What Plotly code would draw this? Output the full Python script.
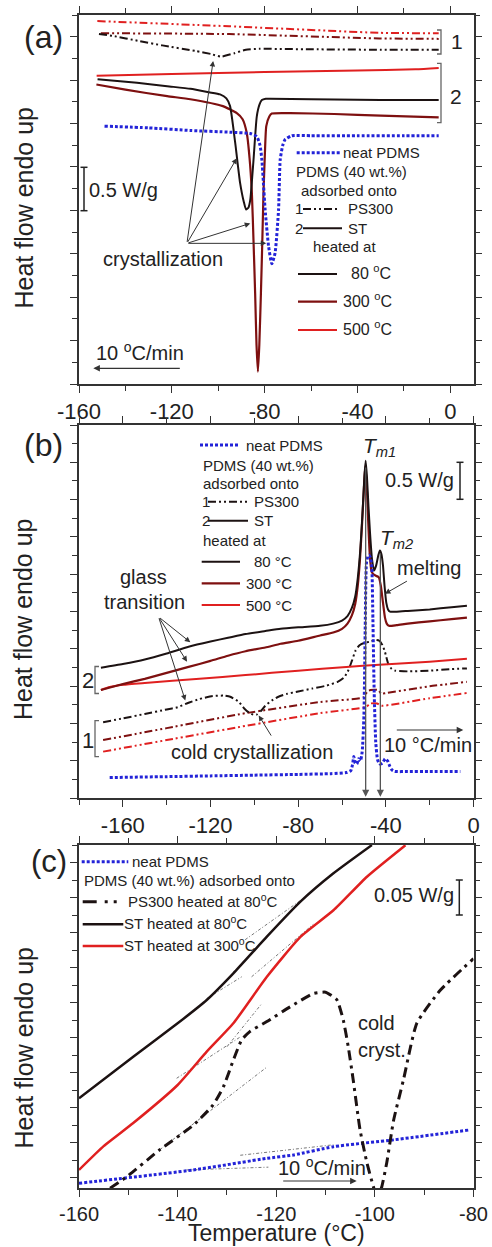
import plotly.graph_objects as go

W, H = 492, 1247
FONT = "Liberation Sans, Arial, sans-serif"
TXT = "#222222"
AX = "#333333"
BLACK = "#1c1212"
DRED = "#7e1010"
RED = "#e02020"
BLUE = "#2323d8"

# ---------------- panel (a): cooling ----------------
xa_neat = [-149, -130, -112, -95, -86.2, -83.4, -82, -81.2, -80.5, -79.8, -78.3, -76.9, -75.5, -74.0, -73.3, -72.2, -71.2, -68.3, -60, -40, -20, -5]
ya_neat = [2.97, 2.95, 2.92, 2.90, 2.885, 2.85, 2.75, 2.585, 2.30, 2.01, 1.585, 1.385, 1.51, 2.01, 2.585, 2.75, 2.815, 2.86, 2.86, 2.86, 2.86, 2.86]

xa_st80 = [-152, -135, -122, -112, -104, -99.2, -96.5, -94.9, -92.7, -90.6, -89, -88.0, -87, -86.2, -84.8, -83.4, -82.2, -81.2, -79.5, -77.6, -60, -40, -20, -5]
ya_st80 = [3.51, 3.47, 3.43, 3.40, 3.36, 3.335, 3.29, 3.20, 2.78, 2.32, 2.10, 2.01, 2.03, 2.12, 2.58, 3.08, 3.22, 3.27, 3.285, 3.285, 3.28, 3.275, 3.27, 3.27]

xa_st300 = [-152.5, -140, -122, -112, -98, -92, -89.5, -87.7, -86.5, -85.5, -84.8, -84.1, -83.5, -82.9, -82.3, -81.6, -81, -80.5, -79.9, -79.3, -78, -76.9, -69, -50, -30, -5]
ya_st300 = [3.45, 3.39, 3.315, 3.28, 3.20, 3.12, 3.05, 2.89, 2.60, 2.20, 1.65, 1.05, 0.45, 0.142, 0.45, 1.05, 1.65, 2.20, 2.65, 2.97, 3.08, 3.115, 3.12, 3.11, 3.09, 3.07]

xa_st500 = [-152.4, -120, -80, -40, -15, -5]
ya_st500 = [3.55, 3.57, 3.594, 3.61, 3.625, 3.64]

xa_ps500 = [-152.1, -95.3, -30.6, -5]
ya_ps500 = [4.18, 4.12, 4.045, 4.04]
xa_ps300 = [-150.6, -95.3, -30.6, -5]
ya_ps300 = [4.04, 4.03, 3.98, 3.975]
xa_ps80 = [-151.4, -145.6, -134.1, -124.1, -109.7, -103, -98.9, -93, -88.1, -82.4, -60, -30, -5]
ya_ps80 = [4.03, 4.01, 3.95, 3.90, 3.835, 3.80, 3.77, 3.81, 3.85, 3.86, 3.855, 3.85, 3.85]

# ---------------- panel (b): heating ----------------
xb_neat = [-166, -140, -120, -100, -80, -65, -58, -56, -55.2, -54.6, -54.0, -53.2, -52.4, -51.6, -50.8, -50.0, -49.4, -48.9, -48.4, -47.7, -47.0, -46.4, -45.9, -45.3, -44.6, -43.8, -42.8, -41.6, -40.3, -39.2, -38.2, -37.2, -36, -30, -20, -6]
yb_neat = [0.278, 0.29, 0.30, 0.31, 0.32, 0.33, 0.345, 0.37, 0.45, 0.56, 0.47, 0.46, 0.53, 0.50, 0.62, 1.10, 2.30, 3.14, 3.22, 3.26, 3.22, 3.10, 2.40, 1.40, 0.75, 0.52, 0.46, 0.47, 0.53, 0.50, 0.43, 0.38, 0.36, 0.358, 0.358, 0.358]

xb_st80 = [-170, -160, -150, -140, -130, -120, -112, -104, -95, -88, -80, -70, -64, -60, -57.5, -55.5, -54, -52.8, -51.6, -50.6, -49.8, -49.2, -48.6, -47.9, -47.2, -46.3, -45.4, -44.4, -43.4, -42.7, -42.0, -41.3, -40.6, -39.8, -39.0, -38.1, -35, -30, -20, -10, -3]
yb_st80 = [1.75, 1.80, 1.86, 1.94, 2.03, 2.10, 2.15, 2.20, 2.24, 2.27, 2.29, 2.31, 2.34, 2.38, 2.44, 2.55, 2.70, 2.95, 3.35, 3.85, 4.30, 4.52, 4.30, 3.90, 3.55, 3.20, 3.05, 3.12, 3.26, 3.32, 3.27, 3.12, 2.85, 2.62, 2.53, 2.50, 2.50, 2.51, 2.53, 2.56, 2.58]

xb_st300 = [-170, -165, -160, -150, -140, -130, -120, -112, -104, -95, -88, -80, -70, -64, -60, -57.5, -55.5, -54, -52.8, -51.8, -50.8, -50.0, -49.4, -48.8, -48.1, -47.4, -46.6, -45.7, -44.5, -43.2, -42.3, -41.3, -40.4, -39.6, -38.6, -35, -30, -20, -10, -3]
yb_st300 = [1.45, 1.49, 1.53, 1.60, 1.68, 1.76, 1.84, 1.91, 1.97, 2.02, 2.07, 2.11, 2.18, 2.22, 2.27, 2.34, 2.45, 2.60, 2.85, 3.20, 3.70, 4.15, 4.45, 4.25, 3.75, 3.30, 3.05, 3.00, 2.98, 2.96, 2.85, 2.62, 2.42, 2.34, 2.31, 2.32, 2.34, 2.37, 2.40, 2.42]

xb_st500 = [-170, -166, -160, -150, -125, -104, -80, -58, -43, -20, -3]
yb_st500 = [1.45, 1.49, 1.52, 1.545, 1.60, 1.65, 1.71, 1.76, 1.79, 1.83, 1.87]

xb_ps80 = [-169, -160, -150, -140, -135, -130, -125, -119, -114, -111, -107, -104.5, -102.5, -100.5, -99, -97, -95, -92, -89, -85, -80, -73.6, -67, -62, -59, -57, -55.5, -53.8, -52, -50, -47, -44.5, -43, -41.5, -40.4, -38.9, -37.3, -35.8, -30, -20, -10, -3]
yb_ps80 = [1.02, 1.07, 1.13, 1.19, 1.22, 1.28, 1.33, 1.37, 1.375, 1.36, 1.29, 1.20, 1.15, 1.12, 1.12, 1.17, 1.24, 1.31, 1.36, 1.40, 1.43, 1.47, 1.51, 1.56, 1.62, 1.72, 1.84, 1.98, 2.05, 2.08, 2.10, 2.12, 2.11, 2.05, 1.96, 1.80, 1.73, 1.71, 1.70, 1.71, 1.73, 1.74]

xb_ps300 = [-169, -140, -104, -70, -50, -48.5, -47, -43.5, -42, -40, -20, -3]
yb_ps300 = [0.78, 0.94, 1.14, 1.29, 1.355, 1.43, 1.45, 1.45, 1.40, 1.41, 1.50, 1.56]

xb_ps500 = [-169, -140, -104, -70, -49, -47, -44, -42, -20, -3]
yb_ps500 = [0.625, 0.78, 0.97, 1.14, 1.225, 1.27, 1.27, 1.24, 1.34, 1.41]

# ---------------- panel (c): glass transition zoom ----------------
xc_st80 = [-160, -149, -140, -134.1, -128.7, -121.9, -115.1, -108.4, -100.6]
yc_st80 = [0.1133, 0.1729, 0.2205, 0.2538, 0.2919, 0.3443, 0.3943, 0.4348, 0.4752]

xc_st300 = [-160, -155, -149, -140, -134.1, -128.7, -121.9, -115.1, -108.4, -101.6, -93.8]
yc_st300 = [0.011, 0.045, 0.078, 0.1324, 0.18, 0.2205, 0.287, 0.344, 0.382, 0.43, 0.475]

xc_ps80 = [-153.7, -150.3, -143.6, -136.8, -132.8, -130.7, -128.7, -127, -125.3, -121.9, -117.2, -112.5, -110, -107.7, -106.4, -105.4, -104.4, -103, -101.6, -100.3, -99.5, -98.6, -97.6, -96.2, -94.2, -91.5, -86.7, -80]
yc_ps80 = [-0.015, 0.0014, 0.040, 0.075, 0.104, 0.13, 0.168, 0.197, 0.209, 0.223, 0.244, 0.263, 0.265, 0.254, 0.225, 0.187, 0.14, 0.068, 0.021, -0.013, -0.03, -0.013, 0.021, 0.082, 0.14, 0.2205, 0.268, 0.313]

xc_neat = [-160, -136.8, -121.9, -116.5, -108.4, -96.2, -81]
yc_neat = [-0.008, 0.011, 0.0276, 0.0324, 0.0443, 0.054, 0.068]

# tangent construction lines in (c)
tangents_x = [[-126.3, -113.5], [-134.1, -127.0], [-125.0, -112.5], [-140.2, -127.3],
              [-130.0, -122.9], [-143.6, -121.9], [-127.3, -108.4], [-138.2, -121.6]]
tangents_y = [[0.340, 0.404], [0.256, 0.287], [0.287, 0.362], [0.142, 0.201],
              [0.187, 0.249], [0.040, 0.158], [0.032, 0.047], [0.011, 0.015]]

# tick labels
tick_ab_vals = [-160, -120, -80, -40, 0]
tick_ab_text = ["-160", "-120", "-80", "-40", "0"]
tick_c_vals = [-160, -140, -120, -100, -80]
tick_c_text = ["-160", "-140", "-120", "-100", "-80"]

fig = go.Figure()

DDOT = "8px,3px,2px,3px,2px,3px"
DOT = "3px,2px"


def add(xs, ys, xa, ya, color, width, dash="solid", shape="spline"):
    fig.add_trace(go.Scatter(x=xs, y=ys, xaxis=xa, yaxis=ya, mode="lines",
                             line=dict(color=color, width=width, dash=dash, shape=shape, smoothing=0.5),
                             showlegend=False, hoverinfo="skip"))


# (a)
add(xa_ps500, ya_ps500, "x", "y", RED, 2, DDOT)
add(xa_ps300, ya_ps300, "x", "y", DRED, 2, DDOT)
add(xa_ps80, ya_ps80, "x", "y", BLACK, 2, DDOT)
add(xa_st500, ya_st500, "x", "y", RED, 2)
add(xa_st300, ya_st300, "x", "y", DRED, 2.2)
add(xa_st80, ya_st80, "x", "y", BLACK, 2)
add(xa_neat, ya_neat, "x", "y", BLUE, 3, DOT)
# (b)
add(xb_ps500, yb_ps500, "x2", "y2", RED, 2, DDOT)
add(xb_ps300, yb_ps300, "x2", "y2", DRED, 2, DDOT)
add(xb_ps80, yb_ps80, "x2", "y2", BLACK, 2, DDOT)
add(xb_st500, yb_st500, "x2", "y2", RED, 2)
add(xb_st300, yb_st300, "x2", "y2", DRED, 2.2)
add(xb_st80, yb_st80, "x2", "y2", BLACK, 2)
add(xb_neat, yb_neat, "x2", "y2", BLUE, 3, DOT)
# (c)
for tx, ty in zip(tangents_x, tangents_y):
    add(tx, ty, "x3", "y3", "#777777", 1, "3px,2px,1px,2px", "linear")
add(xc_neat, yc_neat, "x3", "y3", BLUE, 3, DOT)
add(xc_ps80, yc_ps80, "x3", "y3", BLACK, 3, "10px,5px,3px,5px")
add(xc_st300, yc_st300, "x3", "y3", RED, 2.5)
add(xc_st80, yc_st80, "x3", "y3", BLACK, 2.5)

XDOM = [79 / W, 473.5 / W]


def pyv(py):
    return 1 - py / H


def xaxis(rng, vals, text, minor_dt, fs=22):
    return dict(domain=XDOM, range=rng, showline=True, linecolor=AX, linewidth=1.5, mirror="allticks",
                ticks="outside", ticklen=7, tickwidth=1.3, tickcolor=AX, showgrid=False, zeroline=False,
                automargin=False,
                tickmode="array", tickvals=vals, ticktext=text,
                tickfont=dict(family=FONT, size=fs, color=TXT),
                minor=dict(ticks="outside", ticklen=5, tickwidth=1.2, tickcolor=AX, dtick=minor_dt,
                           tick0=-160, showgrid=False))


def yaxis(dom, rng, dt, mdt, anchor):
    return dict(domain=dom, range=rng, showline=True, linecolor=AX, linewidth=1.5, mirror="allticks",
                ticks="outside", ticklen=7, tickwidth=1.3, tickcolor=AX, showgrid=False, zeroline=False,
                automargin=False,
                tick0=0, dtick=dt, showticklabels=False, anchor=anchor,
                minor=dict(ticks="outside", ticklen=5, tickwidth=1.2, tickcolor=AX, dtick=mdt, tick0=0,
                           showgrid=False))


fig.update_layout(
    width=W, height=H, margin=dict(l=0, r=0, t=0, b=0, pad=0, autoexpand=False),
    paper_bgcolor="white", plot_bgcolor="white", showlegend=False,
    xaxis=dict(xaxis([-160, 10], tick_ab_vals, tick_ab_text, 20), anchor="y"),
    xaxis2=dict(xaxis([-180, 0], tick_ab_vals, tick_ab_text, 20), anchor="y2"),
    xaxis3=dict(xaxis([-160, -80], tick_c_vals, tick_c_text, 10, 20), anchor="y3"),
    yaxis=yaxis([pyv(384), pyv(15)], [0, 4.25], 0.5, 0.25, "x"),
    yaxis2=yaxis([pyv(798.3), pyv(425)], [0, 5], 0.5, 0.25, "x2"),
    yaxis3=yaxis([pyv(1188.3), pyv(845)], [-0.0152, 0.4753], 0.05, 0.025, "x3"),
)

ann = []
shapes = []


def txt(px, py, s, size=15, anchor="left", angle=0, yanchor="middle"):
    ann.append(dict(x=px / W, y=pyv(py), xref="paper", yref="paper", text=s, showarrow=False,
                    xanchor=anchor, yanchor=yanchor, textangle=angle, borderpad=0,
                    font=dict(family=FONT, size=size, color=TXT)))


def seg(px0, px1, py, color, width, dash="solid"):
    shapes.append(dict(type="line", xref="paper", yref="paper", x0=px0 / W, x1=px1 / W,
                       y0=pyv(py), y1=pyv(py), line=dict(color=color, width=width, dash=dash)))


def bracket(pxv, pxl, py0, py1):
    path = "M %f,%f L %f,%f L %f,%f L %f,%f" % (pxl / W, pyv(py0), pxv / W, pyv(py0), pxv / W, pyv(py1),
                                                pxl / W, pyv(py1))
    shapes.append(dict(type="path", xref="paper", yref="paper", path=path, line=dict(color="#666666", width=1.3)))


def scalebar(px, py0, py1):
    shapes.append(dict(type="line", xref="paper", yref="paper", x0=px / W, x1=px / W, y0=pyv(py0), y1=pyv(py1),
                       line=dict(color=TXT, width=1.5)))
    for p in (py0, py1):
        shapes.append(dict(type="line", xref="paper", yref="paper", x0=(px - 3.5) / W, x1=(px + 3.5) / W,
                           y0=pyv(p), y1=pyv(p), line=dict(color=TXT, width=1.5)))


def arrow(xr, yr, xh, yh, xt, yt, color="#333333", width=1):
    ann.append(dict(x=xh, y=yh, xref=xr, yref=yr, ax=xt, ay=yt, axref=xr, ayref=yr, text="",
                    showarrow=True, arrowhead=2, arrowsize=1.1, arrowwidth=width, arrowcolor=color))


def parrow(px_head, py, dx):
    ann.append(dict(x=px_head / W, y=pyv(py), xref="paper", yref="paper", ax=dx, ay=0, text="",
                    showarrow=True, arrowhead=2, arrowsize=1.1, arrowwidth=1.2, arrowcolor="#333333"))


# ---- (a) annotations ----
txt(43, 37, "(a)", 32, "center")
txt(23, 207.5, "Heat flow endo up", 25, "center", -90)
bracket(441, 437, 30, 54)
bracket(441, 437, 63.3, 122.7)
txt(457, 41.7, "1", 21, "center")
txt(456, 96.7, "2", 21, "center")
scalebar(84, 167.3, 210.7)
txt(88, 190, "0.5 W/g", 20)
txt(163, 259, "crystallization", 20, "center")
txt(95, 351.7, "10 <sup>o</sup>C/min", 20)
parrow(93.3, 368.3, 88)
arrow("x", "y", -102.2, 3.72, -113.5, 1.62)
arrow("x", "y", -92.0, 2.60, -113.5, 1.62)
arrow("x", "y", -86.2, 1.85, -113.5, 1.62)
arrow("x", "y", -79.3, 1.62, -113.5, 1.62)
seg(296.7, 340, 152.7, BLUE, 3, DOT)
txt(341.7, 152.7, "neat PDMS")
txt(295, 171.7, "PDMS (40 wt.%)")
txt(300, 190, "adsorbed onto")
txt(294, 209, "1")
seg(303, 340, 209, BLACK, 2, DDOT)
txt(346.7, 209, "PS300")
txt(294, 228.3, "2")
seg(303, 342, 228.3, BLACK, 2)
txt(346.7, 228.3, "ST")
txt(311.7, 246.7, "heated at")
seg(298, 337, 274, BLACK, 2)
txt(350, 272, "80 <sup>o</sup>C", 16)
seg(298, 337, 301.7, DRED, 2.2)
txt(341.7, 299.7, "300 <sup>o</sup>C", 16)
seg(298, 337, 330, RED, 2)
txt(341.7, 328, "500 <sup>o</sup>C", 16)

# ---- (b) annotations ----
txt(43, 445, "(b)", 32, "center")
txt(23, 619, "Heat flow endo up", 25, "center", -90)
bracket(95, 99, 666.5, 693.5)
bracket(95, 99, 720.7, 756.7)
txt(88, 680, "2", 22, "center")
txt(88, 740, "1", 22, "center")
seg(200, 240, 445, BLUE, 3, DOT)
txt(245, 445, "neat PDMS")
txt(201.7, 465, "PDMS (40 wt.%)")
txt(201.7, 483.3, "adsorbed onto")
txt(200.5, 501.7, "1")
seg(208, 248, 501.7, BLACK, 2, DDOT)
txt(253.3, 501.7, "PS300")
txt(200.5, 520.7, "2")
seg(208, 248, 520.7, BLACK, 2)
txt(253.3, 520.7, "ST")
txt(201.7, 540, "heated at")
seg(201.7, 240, 561.7, BLACK, 2)
txt(253.3, 561.7, "80 °C")
seg(201.7, 240, 583.3, DRED, 2.2)
txt(245, 583.3, "300 °C")
seg(201.7, 240, 605, RED, 2)
txt(245, 605, "500 °C")
txt(362, 447, "<i>T</i><sub><i>m1</i></sub>", 21)
txt(379, 539, "<i>T</i><sub><i>m2</i></sub>", 21)
txt(396, 568.3, "melting", 20)
arrow("x2", "y2", -40.4, 2.74, -29.7, 2.92)
scalebar(460, 462.3, 499.3)
txt(455, 480, "0.5 W/g", 20, "right")
txt(143, 577, "glass", 20, "center")
txt(144, 602, "transition", 20, "center")
arrow("x2", "y2", -129.2, 2.09, -143.7, 2.43)
arrow("x2", "y2", -130.7, 1.83, -143.7, 2.43)
arrow("x2", "y2", -131.5, 1.31, -143.7, 2.43)
txt(252, 751.7, "cold crystallization", 20, "center")
arrow("x2", "y2", -98.0, 1.11, -91.9, 0.82)
txt(383, 745, "10 °C/min", 20)
parrow(463.3, 730, -68)
arrow("x2", "y2", -49.2, 0.02, -49.2, 4.45, "#555555", 1.3)
arrow("x2", "y2", -42.5, 0.02, -42.5, 3.30, "#555555", 1.3)

# ---- (c) annotations ----
txt(49, 861, "(c)", 31, "center")
txt(23, 1047.5, "Heat flow endo up", 25, "center", -90)
seg(81.7, 128.3, 861.7, BLUE, 3, DOT)
txt(131, 861.7, "neat PDMS")
txt(82.7, 880.7, "PDMS (40 wt.%) adsorbed onto")
seg(82.7, 118.3, 901.7, BLACK, 3, "14px,8px,3px,6px,3px,6px")
txt(126.7, 900, "PS300 heated at 80<sup>o</sup>C")
seg(82.7, 123.3, 924.3, BLACK, 2.5)
txt(122.5, 922.5, "ST heated at 80<sup>o</sup>C")
seg(82.7, 123.3, 946, RED, 2.5)
txt(122.5, 944.2, "ST heated at 300<sup>o</sup>C")
scalebar(459.3, 880, 915)
txt(455, 895, "0.05 W/g", 20, "right")
txt(356.7, 1023.3, "cold", 20)
txt(356.7, 1050, "cryst.", 20)
txt(276.7, 1166, "10 <sup>o</sup>C/min", 20)
parrow(356.7, 1181, -75)
txt(276.7, 1246.5, "Temperature (°C)", 23, "center", yanchor="bottom")

fig.update_layout(annotations=ann, shapes=shapes)
fig.write_html("out.html", config={"displayModeBar": False},
               post_script="document.body.style.margin='0px';document.body.style.overflow='hidden';")
